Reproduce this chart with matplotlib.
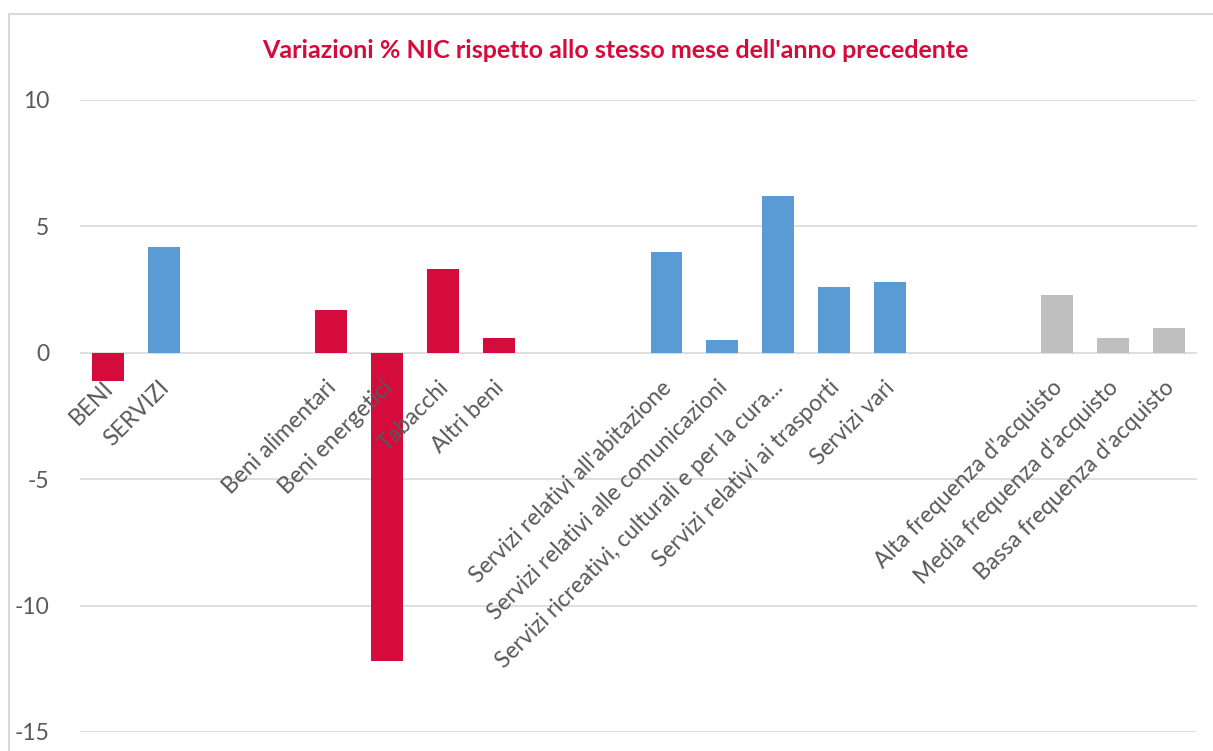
import matplotlib.pyplot as plt
from matplotlib.patches import Rectangle

plt.rcParams['font.family'] = ['Lato', 'DejaVu Sans']

# categorie (stringhe vuote = spazi tra i gruppi)
categorie = ["BENI", "SERVIZI", "", "",
             "Beni alimentari", "Beni energetici", "Tabacchi", "Altri beni", "", "",
             "Servizi relativi all'abitazione", "Servizi relativi alle comunicazioni",
             "Servizi ricreativi, culturali e per la cura...", "Servizi relativi ai trasporti",
             "Servizi vari", "", "",
             "Alta frequenza d'acquisto", "Media frequenza d'acquisto", "Bassa frequenza d'acquisto"]
valori = [-1.1, 4.2, None, None,
          1.7, -12.2, 3.3, 0.6, None, None,
          4.0, 0.5, 6.2, 2.6, 2.8, None, None,
          2.3, 0.6, 1.0]
gruppi = ["beni", "servizi", "", "",
          "beni", "beni", "beni", "beni", "", "",
          "servizi", "servizi", "servizi", "servizi", "servizi", "", "",
          "freq", "freq", "freq"]
colori = {"beni": "#D50B3B", "servizi": "#5B9BD5", "freq": "#BFBFBF", "": "none"}

fig = plt.figure(figsize=(12.13, 7.51), dpi=100)
ax = fig.add_axes([80 / 1213, 1 - 732 / 751, 1117 / 1213, 632 / 751])

x = list(range(len(categorie)))
altezze = [v if v is not None else 0 for v in valori]
ax.bar(x, altezze, width=0.57, color=[colori[g] for g in gruppi], zorder=3)

ax.set_xlim(-0.5, len(categorie) - 0.5)
ax.set_ylim(-15, 10)
ax.set_yticks([-15, -10, -5, 0, 5, 10])
ax.set_yticklabels(["-15", "-10", "-5", "0", "5", "10"])
ax.yaxis.grid(True, color="#D9D9D9", linewidth=1.2, zorder=0)
ax.set_axisbelow(True)
for s in ax.spines.values():
    s.set_visible(False)
ax.tick_params(axis="y", length=0, pad=22, labelsize=16.5, labelcolor="#595959")
ax.tick_params(axis="x", length=0)
ax.set_xticks([])

# etichette ruotate sotto lo zero
for xi, lab in zip(x, categorie):
    if lab:
        ax.text(xi - 0.1, -0.95, lab, rotation=45, ha="right", va="top",
                rotation_mode="anchor", fontsize=16.5, color="#595959")

fig.text(0.507, 1 - 50 / 751, "Variazioni % NIC rispetto allo stesso mese dell'anno precedente",
         ha="center", va="center", fontsize=18, fontweight="bold", color="#D50B3B")

# cornice del grafico
fig.patches.append(Rectangle((9 / 1213, -0.1), 1.2, 1 - 14 / 751 + 0.1, transform=fig.transFigure,
                             fill=False, edgecolor="#D9D9D9", linewidth=1.5))

fig.savefig("out.png", dpi=100)
